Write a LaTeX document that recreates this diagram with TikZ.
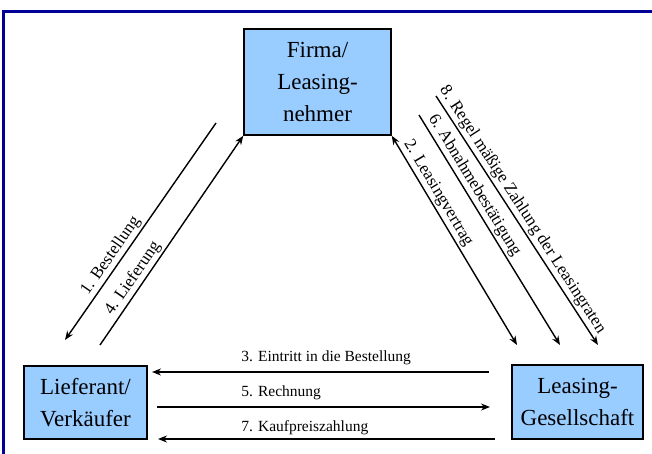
\documentclass[tikz,border=0pt]{standalone}
\usepackage{fontspec}
\setmainfont{Liberation Serif}
\usetikzlibrary{arrows.meta}
\definecolor{box_blue}{RGB}{153,204,255}
\definecolor{frame_blue}{RGB}{0,0,150}

\begin{document}
\begin{tikzpicture}[->,semithick,>={Stealth[length=9pt,width=7pt]},x=1pt,y=-1pt]
    \tikzstyle{box}=[draw=black, line width=1.5pt, fill=box_blue, align=center, inner sep=0pt, font=\fontsize{23}{32}\selectfont]
    \tikzstyle{lbl}=[inner sep=0pt, anchor=base west, font=\fontsize{15.5}{18}\selectfont]
    \tikzstyle{slbl}=[sloped, above=2pt, inner sep=0pt, font=\fontsize{17}{20}\selectfont]
    \tikzstyle{line}=[line width=1.4pt]

    \useasboundingbox (0,0) rectangle (652,454);
    \draw[-, frame_blue, line width=3pt] (3.5,460) -- (3.5,12) -- (660,12);

    \node[box, minimum width=147pt, minimum height=106pt] (f) at (317.5,82)  {Firma/\\Leasing-\\nehmer};
    \node[box, minimum width=123pt, minimum height=73pt]  (l) at (85.5,402.5) {Lieferant/\\Verkäufer};
    \node[box, minimum width=131pt, minimum height=74pt]  (g) at (577.5,402) {Leasing-\\Gesellschaft};

    % free ends of the connectors
    \coordinate (b1) at (216,123);
    \coordinate (b2) at (65,340);
    \coordinate (l1) at (100,345);
    \coordinate (v1) at (517,345);
    \coordinate (a1) at (419,115);
    \coordinate (a2) at (560,345);
    \coordinate (z1) at (436,96);
    \coordinate (z2) at (598,345);
    \coordinate (e1) at (489,372);
    \coordinate (e2) at (152,372);
    \coordinate (r1) at (157,407);
    \coordinate (r2) at (490,407);
    \coordinate (k1) at (495,439);
    \coordinate (k2) at (158,439);

    \path[line]
     (b1) edge node[slbl, pos=0.64] {1. Bestellung} (b2)
     (l1) edge node[slbl, pos=0.29] {4. Lieferung} (f.south west)
     (f.south east) edge[<->] node[slbl, pos=0.3] {2. Leasingvertrag} (v1)
     (a1) edge node[slbl, pos=0.33] {6. Abnahmebestätigung} (a2)
     (z1) edge node[slbl, pos=0.48] {8. Regel mäßige Zahlung der Leasingraten} (z2)
     (e1) edge (e2)
     (r1) edge (r2)
     (k1) edge[line width=2.4pt] (k2)
     ;

    \node[lbl] (t3) at (241,361) {3. Eintritt in die Bestellung};
    \node[lbl] (t5) at (241,396) {5. Rechnung};
    \node[lbl] (t7) at (241,431) {7. Kaufpreiszahlung};
\end{tikzpicture}
\end{document}
